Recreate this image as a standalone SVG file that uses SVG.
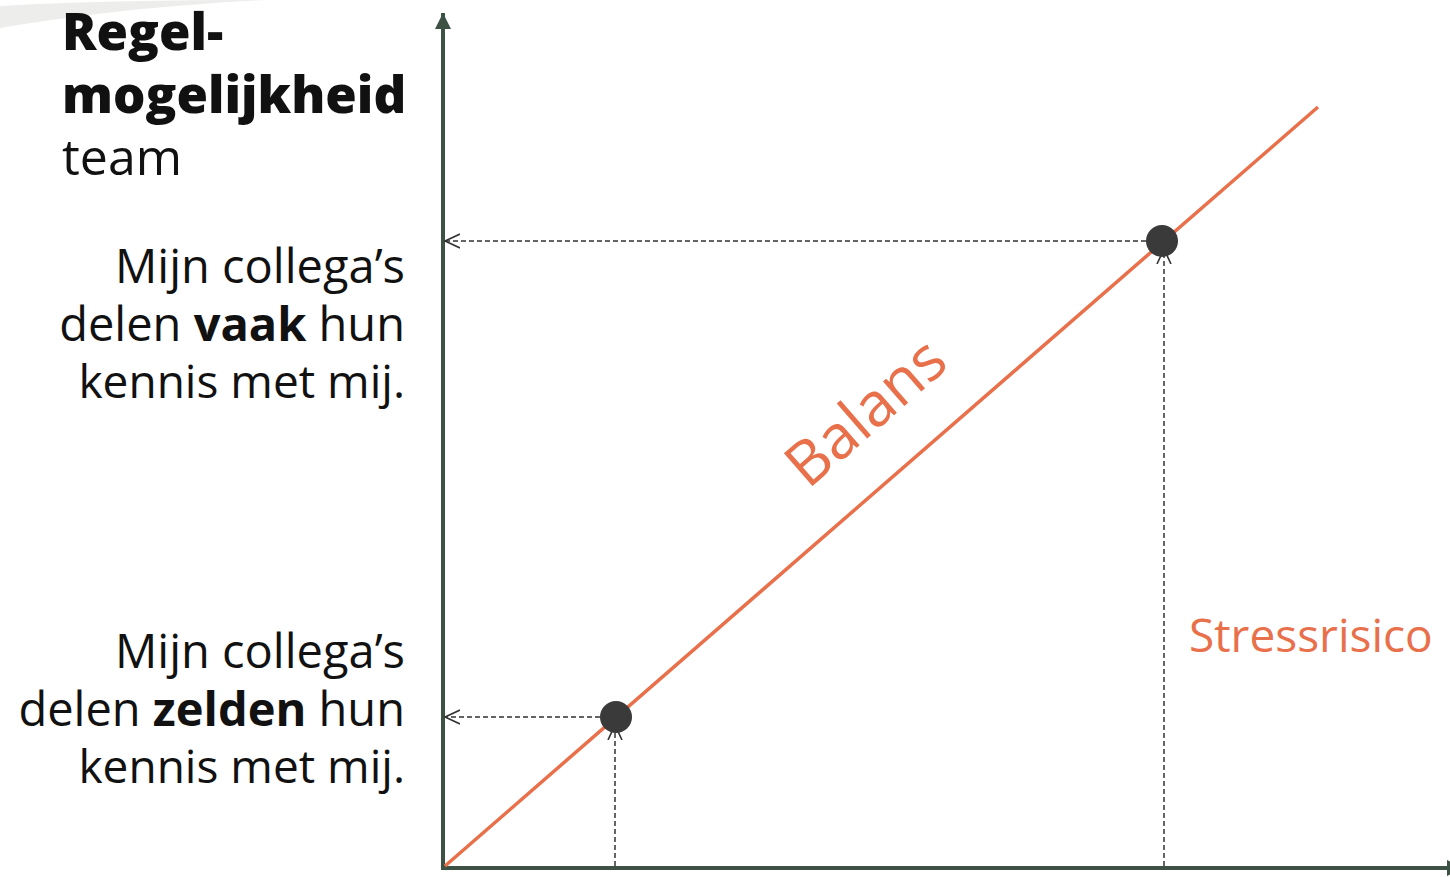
<svg xmlns="http://www.w3.org/2000/svg" width="1450" height="877" viewBox="0 0 1450 877">
<style>
.lbl{font-family:"Open Sans","Liberation Sans",sans-serif;fill:#111;}
.b{font-weight:800;}
.bt{font-weight:700;}
.or{fill:#E8704A;font-family:"Open Sans","Liberation Sans",sans-serif;}
.dash{stroke:#333;stroke-width:1.5;stroke-dasharray:5 3;fill:none;}
.axis{stroke:#3d5244;stroke-width:4;fill:none;}
.dot{fill:#3a3a3a;}
</style>
<defs>
<marker id="open" markerWidth="20" markerHeight="20" refX="15" refY="10" orient="auto" markerUnits="userSpaceOnUse">
<path d="M0,3 L15,10 L0,17" fill="none" stroke="#333" stroke-width="1.6"/>
</marker>
<marker id="filled" markerWidth="20" markerHeight="20" refX="16" refY="10" orient="auto" markerUnits="userSpaceOnUse">
<path d="M0,2 L16,10 L0,18 Z" fill="#3d5244"/>
</marker>
</defs>
<rect width="1450" height="877" fill="#fff"/>
<path d="M0,6 C90,1 180,0 265,0 C180,4 80,14 0,28 Z" fill="#ededeb"/>
<g id="connectors">
<line class="axis" x1="443" y1="870" x2="443" y2="13" marker-end="url(#filled)"/>
<line class="axis" x1="441" y1="868" x2="1463" y2="868" marker-end="url(#filled)"/>
<line x1="445" y1="866" x2="1318" y2="107" stroke="#E8704A" stroke-width="3.5"/>
<line class="dash" x1="1146" y1="241" x2="445" y2="241" marker-end="url(#open)"/>
<line class="dash" x1="600" y1="717" x2="445" y2="717" marker-end="url(#open)"/>
<line class="dash" x1="1164" y1="866" x2="1164" y2="249" marker-end="url(#open)"/>
<line class="dash" x1="615" y1="866" x2="615" y2="725" marker-end="url(#open)"/>
</g>
<g id="dot-high"><circle class="dot" cx="1162" cy="241" r="16"/></g>
<g id="dot-low"><circle class="dot" cx="616" cy="717" r="16"/></g>
<g id="y-title">
<text class="lbl b" x="62" y="50" font-size="51">Regel-</text>
<text class="lbl b" x="62" y="113" font-size="51">mogelijkheid</text>
<text class="lbl" x="62" y="175" font-size="50">team</text>
</g>
<g id="label-high" text-anchor="end">
<text class="lbl" x="405" y="283" font-size="47">Mijn collega’s</text>
<text class="lbl" x="405" y="341" font-size="47">delen <tspan class="bt">vaak</tspan> hun</text>
<text class="lbl" x="405" y="398" font-size="46">kennis met mij.</text>
</g>
<g id="label-low" text-anchor="end">
<text class="lbl" x="405" y="668" font-size="47">Mijn collega’s</text>
<text class="lbl" x="405" y="726" font-size="47">delen <tspan class="bt">zelden</tspan> hun</text>
<text class="lbl" x="405" y="783" font-size="46">kennis met mij.</text>
</g>
<g id="balans"><text class="or" font-size="61" transform="translate(808,490) rotate(-41)">Balans</text></g>
<g id="stress"><text class="or" x="1189" y="652" font-size="46">Stressrisico</text></g>
</svg>
